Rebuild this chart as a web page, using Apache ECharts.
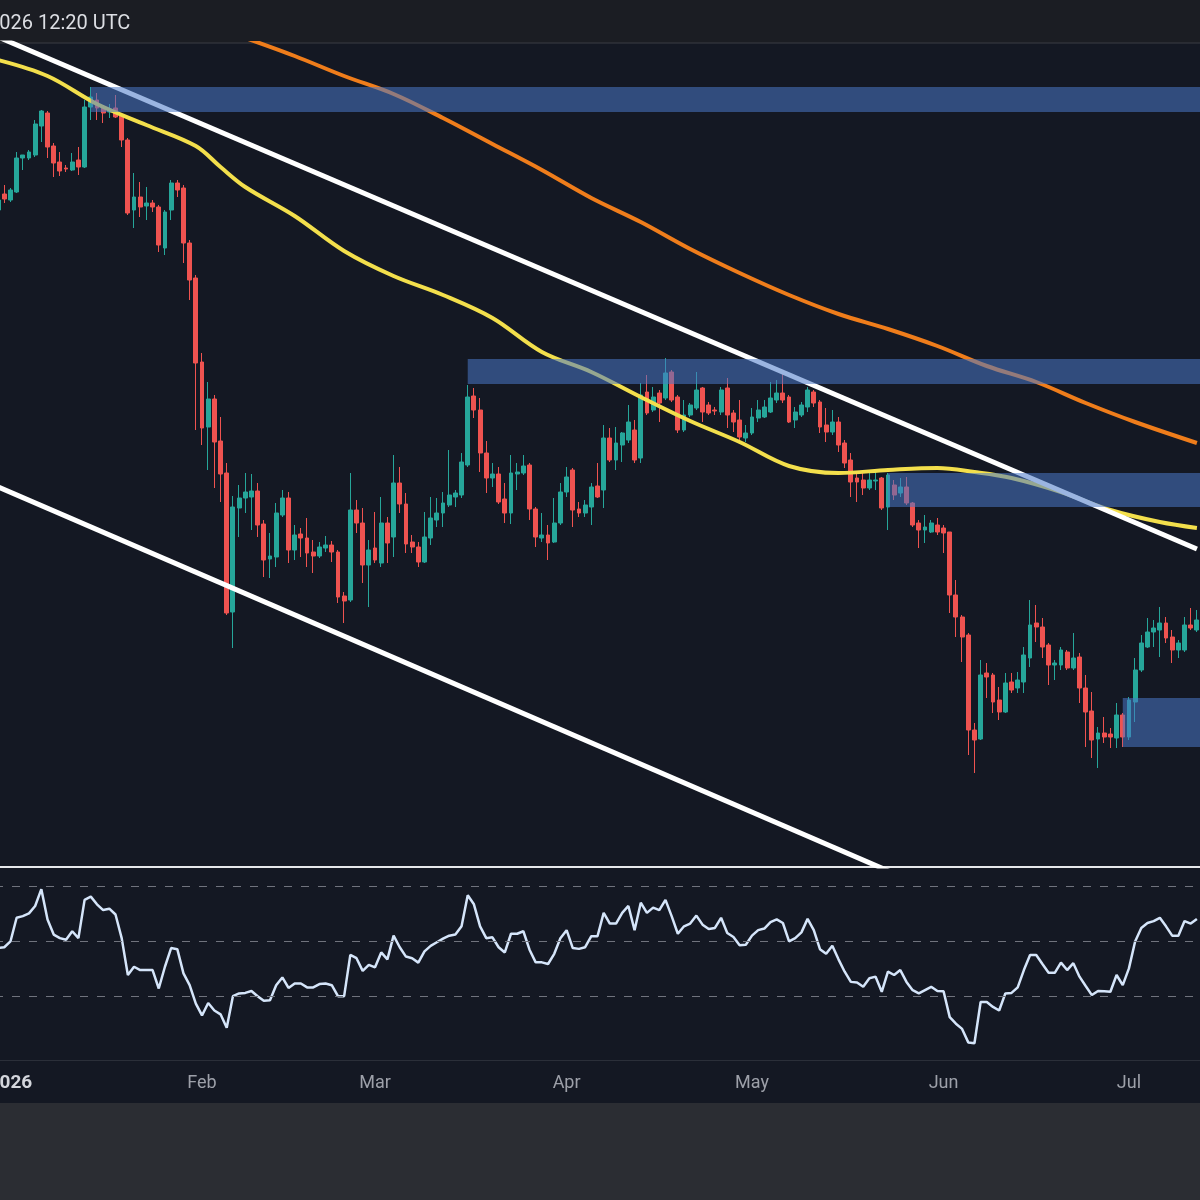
<!DOCTYPE html>
<html>
<head>
<meta charset="utf-8">
<title>Daily chart</title>
<script src="https://cdn.jsdelivr.net/npm/echarts@6/dist/echarts.min.js"></script>
<style>
  html, body { margin: 0; padding: 0; background: #141823; }
  #chart { width: 1200px; height: 1200px; }
</style>
</head>
<body>
<div id="chart"></div>
<script>
// daily candles, first one is 2025-12-30
const firstDay = '2025-12-30';
const dayCount = 195;
const monthNames = ['Jan', 'Feb', 'Mar', 'Apr', 'May', 'Jun', 'Jul', 'Aug', 'Sep', 'Oct', 'Nov', 'Dec'];

const opens = [
  790, 806, 800, 808, 842, 842, 845, 874, 887, 854,
  838, 832, 830, 840, 833, 893, 900, 893, 888, 892,
  884, 860, 790, 803, 794, 797, 793, 752, 790, 817,
  812, 757, 722, 638, 573, 601, 559, 527, 388, 492,
  502, 503, 509, 476, 441, 443, 485, 502, 450, 466,
  462, 448, 444, 452, 455, 448, 404, 400, 490, 477,
  435, 452, 437, 477, 463, 517, 496, 458, 453, 438,
  462, 480, 487, 495, 503, 505, 535, 604, 590, 547,
  522, 526, 501, 487, 526, 527, 535, 491, 462, 465,
  458, 477, 508, 530, 491, 487, 493, 514, 510, 562,
  540, 555, 560, 570, 542, 608, 590, 607, 602, 628,
  603, 570, 585, 592, 612, 595, 590, 588, 612, 587,
  580, 562, 567, 582, 583, 588, 600, 607, 603, 580,
  585, 593, 608, 598, 575, 568, 578, 557, 540, 522,
  520, 512, 519, 522, 493, 515, 507, 513, 497, 477,
  470, 468, 475, 472, 468, 405, 383, 365, 270, 261,
  327, 325, 300, 288, 318, 312, 318, 342, 377, 373,
  355, 335, 335, 348, 332, 343, 312, 289, 261, 267,
  266, 262, 285, 263, 298, 330, 353, 368, 370, 377,
  363, 350, 350, 375, 370
];
const closes = [
  800, 801, 810, 842, 845, 848, 876, 889, 853, 837,
  829, 831, 838, 833, 893, 903, 892, 887, 891, 883,
  860, 787, 803, 793, 797, 793, 755, 788, 817, 810,
  757, 720, 637, 572, 601, 558, 526, 387, 493, 502,
  508, 509, 475, 440, 444, 487, 502, 450, 465, 462,
  447, 444, 453, 455, 448, 403, 399, 490, 477, 435,
  450, 440, 477, 457, 517, 496, 456, 453, 438, 463,
  482, 487, 497, 505, 507, 538, 603, 590, 547, 522,
  526, 498, 487, 527, 528, 534, 491, 463, 465, 457,
  477, 508, 523, 490, 487, 495, 513, 503, 562, 540,
  557, 567, 578, 540, 605, 587, 603, 597, 627, 600,
  570, 585, 595, 610, 588, 587, 589, 610, 585, 578,
  563, 567, 583, 590, 593, 602, 607, 600, 578, 588,
  595, 610, 597, 573, 568, 578, 555, 537, 518, 518,
  512, 520, 520, 492, 525, 505, 513, 497, 475, 470,
  473, 477, 468, 467, 405, 383, 363, 270, 260, 325,
  323, 298, 288, 317, 310, 320, 345, 375, 373, 353,
  335, 337, 350, 332, 342, 312, 288, 260, 267, 263,
  263, 285, 263, 300, 330, 357, 368, 372, 377, 362,
  350, 357, 375, 372, 380
];
const lows = [
  787, 797, 798, 807, 830, 840, 843, 858, 842, 823,
  824, 828, 829, 825, 832, 880, 880, 877, 882, 882,
  853, 785, 772, 783, 780, 788, 748, 745, 780, 803,
  737, 700, 570, 555, 530, 512, 498, 385, 352, 463,
  487, 470, 463, 423, 422, 433, 483, 437, 440, 443,
  433, 427, 442, 448, 438, 397, 377, 398, 467, 417,
  393, 437, 433, 437, 443, 487, 447, 447, 433, 437,
  455, 473, 473, 493, 493, 502, 533, 582, 528, 507,
  513, 496, 477, 476, 510, 525, 480, 453, 458, 440,
  457, 475, 503, 473, 483, 483, 475, 502, 492, 538,
  530, 538, 557, 537, 537, 585, 588, 578, 600, 598,
  567, 568, 583, 590, 578, 585, 585, 585, 572, 568,
  557, 558, 565, 578, 582, 587, 597, 597, 577, 572,
  583, 588, 593, 567, 558, 565, 548, 532, 503, 498,
  505, 510, 510, 490, 470, 500, 503, 495, 473, 452,
  457, 467, 465, 447, 387, 363, 338, 245, 227, 260,
  302, 287, 280, 287, 307, 307, 307, 333, 358, 342,
  315, 320, 330, 330, 330, 297, 253, 242, 232, 257,
  252, 252, 253, 260, 278, 328, 352, 353, 343, 357,
  337, 342, 348, 370, 368
];
const highs = [
  803, 815, 812, 848, 845, 850, 880, 890, 889, 857,
  848, 835, 847, 853, 900, 913, 907, 895, 896, 905,
  885, 862, 827, 818, 813, 800, 795, 790, 820, 820,
  815, 760, 725, 647, 618, 605, 583, 537, 504, 515,
  527, 526, 517, 480, 467, 497, 510, 508, 475, 472,
  482, 460, 458, 464, 459, 450, 408, 527, 500, 492,
  460, 488, 503, 483, 545, 533, 507, 465, 458, 488,
  503, 502, 508, 550, 510, 547, 615, 612, 602, 559,
  537, 533, 517, 545, 537, 545, 537, 493, 487, 475,
  502, 517, 533, 532, 498, 500, 517, 537, 575, 572,
  573, 568, 595, 580, 617, 625, 613, 610, 642, 630,
  605, 600, 597, 628, 613, 598, 593, 613, 622, 590,
  600, 575, 592, 600, 600, 618, 620, 628, 605, 593,
  598, 613, 610, 600, 592, 590, 583, 560, 547, 528,
  527, 527, 530, 523, 527, 520, 522, 523, 498, 480,
  485, 480, 482, 475, 468, 420, 385, 367, 277, 340,
  337, 327, 313, 327, 327, 328, 353, 400, 395, 382,
  357, 340, 353, 350, 367, 347, 325, 308, 273, 283,
  272, 297, 287, 303, 342, 365, 382, 380, 393, 383,
  370, 360, 383, 392, 390
];

// RSI(14), one value per candle
const rsiValues = [
  47.4, 47.7, 49.8, 58.4, 59.0, 60.0, 62.7, 68.8, 57.8, 52.3,
  51.0, 50.4, 53.5, 51.0, 64.9, 66.1, 63.3, 61.2, 61.7, 59.6,
  51.0, 37.6, 40.6, 39.4, 39.4, 39.4, 32.7, 40.6, 47.4, 47.0,
  38.2, 33.9, 27.2, 22.9, 27.4, 24.7, 23.3, 18.4, 29.9, 30.9,
  31.1, 31.8, 29.9, 28.2, 28.4, 33.9, 36.7, 32.9, 34.5, 34.5,
  33.1, 33.1, 34.3, 34.5, 33.9, 29.9, 29.9, 44.9, 43.7, 39.1,
  41.3, 40.4, 45.8, 43.3, 51.9, 47.7, 44.3, 43.7, 42.1, 46.2,
  48.2, 49.5, 50.8, 51.9, 52.3, 55.3, 66.6, 63.3, 55.3, 51.0,
  51.3, 47.7, 45.8, 52.6, 52.6, 53.5, 46.8, 42.2, 42.2, 41.6,
  45.3, 51.0, 53.9, 47.4, 47.1, 47.7, 51.7, 51.7, 60.2, 56.3,
  56.3, 60.2, 62.7, 53.9, 63.9, 60.2, 62.1, 61.2, 64.9, 59.0,
  52.6, 55.3, 56.3, 59.2, 55.9, 54.3, 54.7, 58.4, 52.9, 51.4,
  48.4, 48.6, 51.9, 53.9, 54.5, 56.8, 57.8, 56.5, 49.8, 51.0,
  53.1, 58.0, 53.9, 47.0, 45.3, 48.2, 43.3, 38.8, 35.1, 34.9,
  33.3, 36.4, 37.0, 31.5, 38.8, 37.6, 39.4, 35.1, 32.1, 30.9,
  32.1, 33.3, 31.8, 31.7, 22.3, 19.9, 18.0, 13.1, 12.8, 27.8,
  27.8, 26.0, 24.7, 30.9, 31.1, 33.1, 39.4, 44.9, 44.9, 41.6,
  38.4, 38.4, 42.1, 39.4, 41.9, 37.0, 33.6, 30.3, 31.8, 31.7,
  31.5, 37.6, 33.9, 40.0, 49.8, 54.7, 56.5, 57.2, 58.4, 55.3,
  51.9, 51.9, 57.2, 56.3, 58.0
];
const rsiLevels = [70, 50, 30];

// moving averages, every few days
const maFastDates = [
  '2025-12-30', '2026-01-07', '2026-01-15', '2026-01-23', '2026-01-31', '2026-02-04',
  '2026-02-08', '2026-02-16', '2026-02-24', '2026-03-04', '2026-03-12', '2026-03-20',
  '2026-03-28', '2026-04-05', '2026-04-13', '2026-04-21', '2026-04-29', '2026-05-07',
  '2026-05-15', '2026-05-23', '2026-05-31', '2026-06-06', '2026-06-12', '2026-06-20',
  '2026-06-28', '2026-07-06', '2026-07-12'
];
const maFastValues = [
  940, 924, 896, 875, 854, 833,
  813, 784, 749, 724, 705, 682,
  648, 628, 603, 579, 558, 534,
  527, 530, 532, 528, 522, 508,
  490, 478, 472
];
const maSlowDates = [
  '2026-02-08', '2026-02-16', '2026-02-24', '2026-03-04', '2026-03-12', '2026-03-20',
  '2026-03-28', '2026-04-05', '2026-04-13', '2026-04-21', '2026-04-29', '2026-05-07',
  '2026-05-15', '2026-05-23', '2026-05-31', '2026-06-08', '2026-06-16', '2026-06-24',
  '2026-07-02', '2026-07-12'
];
const maSlowValues = [
  962, 944, 924, 906, 882, 856,
  830, 802, 778, 751, 727, 705,
  686, 671, 654, 634, 618, 597,
  578, 557
];

// descending channel
const channelDates = ['2025-12-30', '2026-07-12'];
const channelUpper = [963, 451];
const channelLower = [513, -4];

// supply / demand boxes, they run to the right edge
const zoneStarts = ['2026-01-14', '2026-03-16', '2026-05-23', '2026-06-30'];
const zoneTops = [913, 641, 527, 302];
const zoneBottoms = [888, 616, 493, 253];

const UP = '#26a69a';
const DOWN = '#ef5350';

const dates = [];
const t0 = Date.parse(firstDay + 'T00:00:00Z');
for (let i = 0; i < dayCount; i++) {
  dates.push(new Date(t0 + i * 86400000).toISOString().slice(0, 10));
}

const candles = dates.map((d, i) => [opens[i], closes[i], lows[i], highs[i]]);
const pairs = (xs, ys) => xs.map((x, i) => [x, ys[i]]);
const zones = zoneStarts.map((d, i) => [dates.indexOf(d), dates.length - 1, zoneTops[i], zoneBottoms[i]]);

const chart = echarts.init(document.getElementById('chart'));

chart.setOption({
  backgroundColor: '#141823',
  animation: false,
  grid: [
    { left: -5, right: 0, top: 43, height: 823, containLabel: false, outerBoundsMode: 'none' },
    { left: -5, right: 0, top: 868, height: 192, containLabel: false, outerBoundsMode: 'none' },
  ],
  xAxis: [
    {
      type: 'category',
      gridIndex: 0,
      data: dates,
      axisLine: { show: false },
      axisTick: { show: false },
      axisLabel: { show: false },
      splitLine: { show: false },
    },
    {
      type: 'category',
      gridIndex: 1,
      data: dates,
      axisLine: { show: false },
      axisTick: { show: false },
      splitLine: { show: false },
      axisLabel: {
        interval: (idx, value) => value.slice(8) === '01',
        formatter: (value) => {
          const m = +value.slice(5, 7);
          return m === 1 ? '{year|' + value.slice(0, 4) + '}' : monthNames[m - 1];
        },
        color: '#9da0a9',
        fontSize: 18,
        fontFamily: 'Roboto',
        margin: 14,
        rich: {
          year: { color: '#d4d6dc', fontSize: 19, fontWeight: 'bold', fontFamily: 'Roboto' },
        },
      },
    },
  ],
  yAxis: [
    { type: 'value', gridIndex: 0, min: 134, max: 957, show: false },
    { type: 'value', gridIndex: 1, min: 6.7, max: 76.5, show: false },
  ],
  graphic: [
    { type: 'rect', z: 0, shape: { x: 0, y: 0, width: 1200, height: 43 }, style: { fill: '#1b1d23' } },
    { type: 'line', z: 0, shape: { x1: 0, y1: 43, x2: 1200, y2: 43 }, style: { stroke: '#3a3d45', lineWidth: 1 } },
    {
      type: 'text', z: 1, x: -12, y: 24,
      style: { text: '2026 12:20 UTC', fill: '#dcdee3', font: '20px Roboto', verticalAlign: 'middle' },
    },
    { type: 'line', z: 0, shape: { x1: 0, y1: 867, x2: 1200, y2: 867 }, style: { stroke: '#e6e7ea', lineWidth: 2 } },
    { type: 'line', z: 0, shape: { x1: 0, y1: 1060.5, x2: 1200, y2: 1060.5 }, style: { stroke: '#2b2f39', lineWidth: 1 } },
    { type: 'rect', z: 0, shape: { x: 0, y: 1103, width: 1200, height: 97 }, style: { fill: '#2b2d33' } },
  ],
  series: [
    {
      type: 'candlestick',
      xAxisIndex: 0,
      yAxisIndex: 0,
      data: candles,
      barWidth: '70%',
      z: 2,
      itemStyle: {
        color: UP,
        color0: DOWN,
        borderColor: UP,
        borderColor0: DOWN,
        borderWidth: 1,
      },
    },
    {
      type: 'line',
      name: 'MA fast',
      xAxisIndex: 0,
      yAxisIndex: 0,
      data: pairs(maFastDates, maFastValues),
      smooth: 0.35,
      symbol: 'none',
      z: 3,
      lineStyle: { color: '#f3df4c', width: 4 },
    },
    {
      type: 'line',
      name: 'MA slow',
      xAxisIndex: 0,
      yAxisIndex: 0,
      data: pairs(maSlowDates, maSlowValues),
      smooth: 0.35,
      symbol: 'none',
      z: 3,
      lineStyle: { color: '#ef7d1b', width: 4 },
    },
    {
      type: 'line',
      xAxisIndex: 0,
      yAxisIndex: 0,
      data: pairs(channelDates, channelUpper),
      symbol: 'none',
      z: 4,
      lineStyle: { color: '#ffffff', width: 5 },
    },
    {
      type: 'line',
      xAxisIndex: 0,
      yAxisIndex: 0,
      data: pairs(channelDates, channelLower),
      symbol: 'none',
      z: 4,
      lineStyle: { color: '#ffffff', width: 5 },
    },
    {
      type: 'custom',
      xAxisIndex: 0,
      yAxisIndex: 0,
      data: zones,
      encode: { x: [0, 1], y: [2, 3] },
      z: 5,
      renderItem: (params, api) => {
        const a = api.coord([api.value(0), api.value(2)]);
        const b = api.coord([api.value(1), api.value(3)]);
        const half = api.size([1, 0])[0] / 2;
        return {
          type: 'rect',
          shape: { x: a[0], y: a[1], width: b[0] - a[0] + half, height: b[1] - a[1] },
          style: { fill: 'rgba(72, 120, 200, 0.55)' },
        };
      },
    },
    {
      type: 'line',
      name: 'RSI',
      xAxisIndex: 1,
      yAxisIndex: 1,
      data: rsiValues,
      symbol: 'none',
      z: 3,
      lineStyle: { color: '#d5e5fa', width: 2.5 },
      markLine: {
        silent: true,
        symbol: 'none',
        label: { show: false },
        lineStyle: { color: '#70737d', width: 1.2, type: [8, 9] },
        data: rsiLevels.map((v) => ({ yAxis: v })),
      },
    },
  ],
});
</script>
</body>
</html>
